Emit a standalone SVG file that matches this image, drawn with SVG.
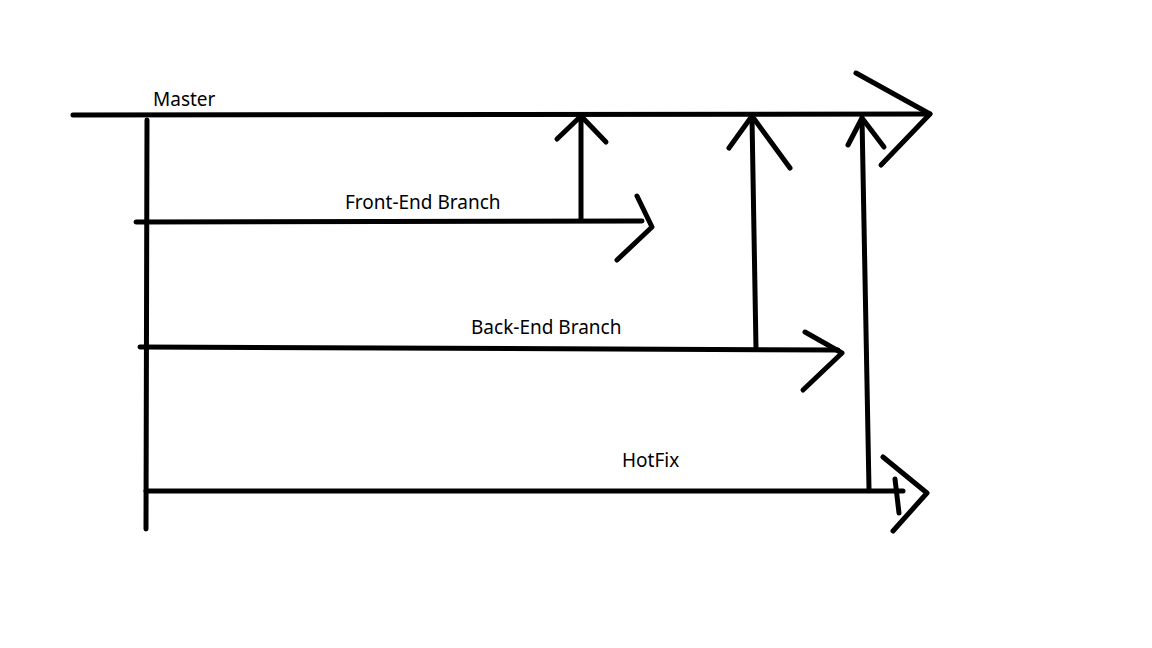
<svg xmlns="http://www.w3.org/2000/svg" width="1152" height="648" viewBox="0 0 1152 648">
<style>
.s{fill:none;stroke:#000;stroke-width:5;stroke-linecap:round;stroke-linejoin:round}
.t{font-family:"Noto Sans","Open Sans","DejaVu Sans",sans-serif;font-size:19px;fill:#000}
</style>
<rect width="1152" height="648" fill="#fff"/>
<g id="connectors">
<polyline class="s" points="73,115 930,114"/>
<polyline class="s" points="856,73 930,114 881,165"/>
<polyline class="s" points="147,120 146,529"/>
<polyline class="s" points="136,222 642,221"/>
<polyline class="s" points="637,196 652,227 617,260"/>
<polyline class="s" points="581,220 581,117"/>
<polyline class="s" points="557,139 581,116 606,142"/>
<polyline class="s" points="140,347 838,350"/>
<polyline class="s" points="805,332 842,353 803,390"/>
<polyline class="s" points="756,348 752,118"/>
<polyline class="s" points="729,148 752,116 790,168"/>
<polyline class="s" points="146,491 903,491"/>
<polyline class="s" points="883,457 927,493 893,531"/>
<polyline class="s" points="895,479 899,513"/>
<polyline class="s" points="869,489 862,118"/>
<polyline class="s" points="848,145 862,118 884,147"/>
</g>
<g id="master"><text class="t" x="153" y="106">Master</text></g>
<g id="frontend"><text class="t" x="345" y="209">Front-End Branch</text></g>
<g id="backend"><text class="t" x="471" y="334">Back-End Branch</text></g>
<g id="hotfix"><text class="t" x="622" y="467">HotFix</text></g>
</svg>
